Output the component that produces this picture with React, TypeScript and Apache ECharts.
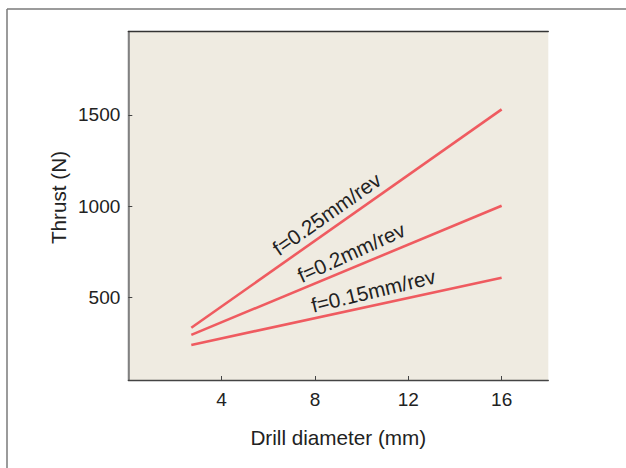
import React, { useEffect, useRef } from "react";
import * as echarts from "echarts";

const diameters = [2.7, 16];
const thrustF025 = [334, 1530];
const thrustF020 = [295, 1002];
const thrustF015 = [240, 608];
const seriesNames = ["f=0.25mm/rev", "f=0.2mm/rev", "f=0.15mm/rev"];
const labelCoords: [number, number][] = [
  [8.5, 958],
  [9.55, 747],
  [10.5, 537],
];
const labelAngles = [35, 24.5, 13.5];
const xTicks = [4, 8, 12, 16];
const yTicks = [500, 1000, 1500];

const FONT = "Liberation Sans, Arial, Helvetica, sans-serif";
const LINE_COLOR = "#EF5B60";

export default function App() {
  const ref = useRef<HTMLDivElement>(null);
  useEffect(() => {
    if (!ref.current) return;
    const chart = echarts.init(ref.current, undefined, { renderer: "svg" });
    const allSeries = [thrustF025, thrustF020, thrustF015];
    const gl = 128.3, gt = 31.7, gw = 420, gh = 348.3;
    chart.setOption({
      animation: false,
      backgroundColor: "#ffffff",
      textStyle: { fontFamily: FONT },
      grid: {
        left: gl,
        top: gt,
        width: gw,
        height: gh,
        show: true,
        backgroundColor: "#EFEBE1",
        borderWidth: 0,
      },
      xAxis: [
        {
          type: "value",
          min: 0,
          max: 18,
          position: "bottom",
          name: "Drill diameter (mm)",
          nameLocation: "middle",
          nameGap: 47,
          nameTextStyle: { fontSize: 20.7, color: "#222", fontFamily: FONT },
          axisLine: { show: true, lineStyle: { color: "#444", width: 1.3 } },
          axisTick: { show: true, inside: true, length: 4, customValues: xTicks, lineStyle: { color: "#444" } },
          axisLabel: { customValues: xTicks, fontSize: 19, color: "#222", margin: 10, fontFamily: FONT, formatter: (v: number) => String(v) },
          splitLine: { show: false },
        },
        {
          type: "value",
          min: 0,
          max: 18,
          position: "top",
          axisLine: { show: true, lineStyle: { color: "#333", width: 1.3 } },
          axisTick: { show: false },
          axisLabel: { show: false },
          splitLine: { show: false },
        },
      ],
      yAxis: [
        {
          type: "value",
          min: 48,
          max: 1955,
          position: "left",
          axisLine: { show: true, lineStyle: { color: "#333", width: 1.3 } },
          axisTick: { show: true, inside: true, length: 4, customValues: yTicks, lineStyle: { color: "#444" } },
          axisLabel: { customValues: yTicks, fontSize: 19, color: "#222", margin: 8, fontFamily: FONT, formatter: (v: number) => String(v) },
          splitLine: { show: false },
        },
        {
          type: "value",
          min: 48,
          max: 1955,
          position: "right",
          axisLine: { show: true, lineStyle: { color: "#8a8a8a", width: 1.8 } },
          axisTick: { show: false },
          axisLabel: { show: false },
          splitLine: { show: false },
        },
      ],
      graphic: [
        {
          type: "text",
          x: 58,
          y: 197.5,
          rotation: Math.PI / 2,
          style: {
            text: "Thrust (N)",
            fontSize: 20.7,
            fill: "#222",
            fontFamily: FONT,
            align: "center",
            verticalAlign: "middle",
          },
        },
        {
          type: "line",
          shape: { x1: 7, y1: 9, x2: 626, y2: 9 },
          style: { stroke: "#7a7a7a", lineWidth: 1.5 },
        },
        {
          type: "line",
          shape: { x1: 7, y1: 9, x2: 7, y2: 468 },
          style: { stroke: "#7a7a7a", lineWidth: 1.5 },
        },
      ],
      series: allSeries.map((vals, i) => ({
        type: "line",
        name: seriesNames[i],
        data: diameters.map((d, j) => [d, vals[j]]),
        showSymbol: false,
        symbol: "none",
        lineStyle: { color: LINE_COLOR, width: 2.6 },
        markPoint: {
          symbol: "circle",
          symbolSize: 0,
          data: [
            {
              coord: labelCoords[i],
              label: {
                show: true,
                position: "inside",
                formatter: seriesNames[i],
                rotate: labelAngles[i],
                fontSize: 20.7,
                color: "#222",
                fontFamily: FONT,
              },
            },
          ],
        },
      })),
    });
    return () => chart.dispose();
  }, []);
  return (
    <div
      ref={ref}
      style={{ position: "fixed", left: 0, top: 0, width: 626, height: 468 }}
    />
  );
}
